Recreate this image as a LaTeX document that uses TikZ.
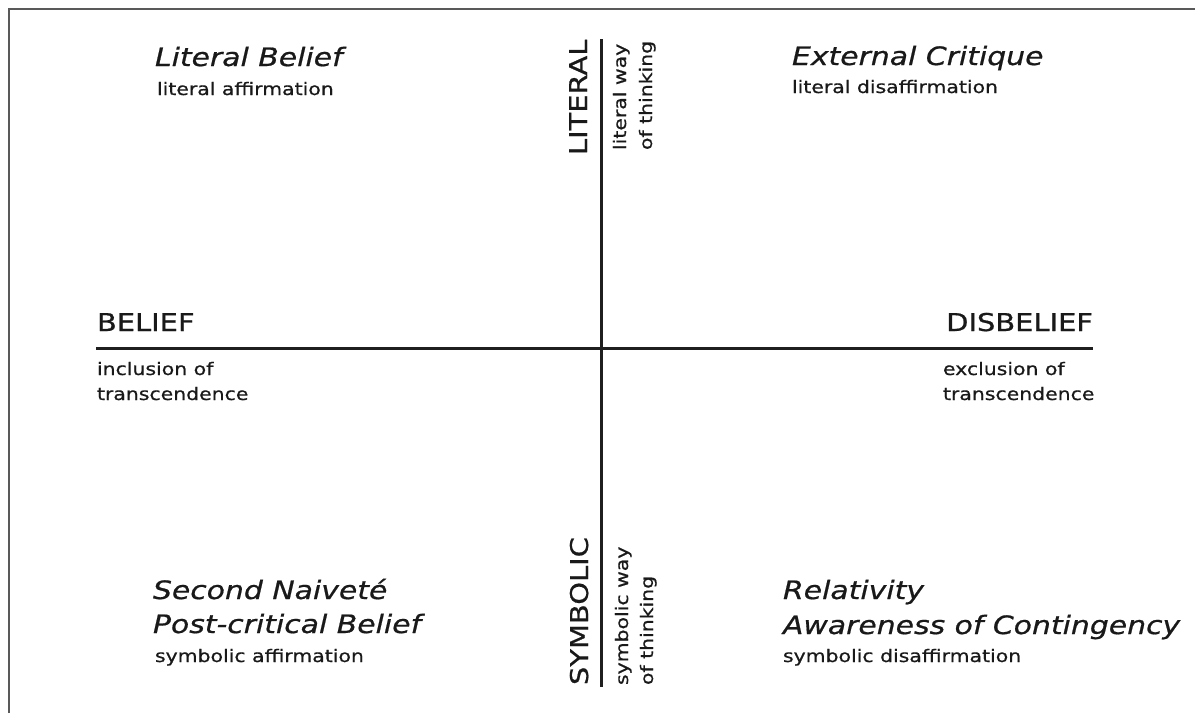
\documentclass[tikz,border=0pt]{standalone}
\usepackage{fontspec}
\setmainfont[FakeStretch=1.18,FakeBold=0.7]{DejaVu Sans}
\begin{document}
\begin{tikzpicture}[x=1pt,y=-1pt,
  every node/.style={inner sep=0pt,outer sep=0pt,text=black!90},
  axislabel/.style={font=\fontsize{24.5}{29}\selectfont},
  small/.style={font=\fontsize{17.3}{25}\selectfont},
  title/.style={font=\fontsize{25.3}{34}\selectfont\itshape},
  axisline/.style={line width=3pt,draw=black!88},
  frameline/.style={line width=2pt,draw=black!65}]
\useasboundingbox (0,0) rectangle (1195,713);
\fill[white] (0,0) rectangle (1195,713);

% outer frame (top and left edges)
\coordinate (fbl) at (9,713);
\coordinate (ftl) at (9,9);
\coordinate (ftr) at (1195,9);
\draw[frameline] (fbl) -- (ftl) -- (ftr);

% axes
\coordinate (hl) at (96,348);
\coordinate (hr) at (1093,348);
\coordinate (vt) at (601.5,39);
\coordinate (vb) at (601.5,687);
\draw[axisline] (hl) -- (hr);
\draw[axisline] (vt) -- (vb);

% horizontal axis labels
\node[axislabel,anchor=base west] (belief) at (97,331) {BELIEF};
\node[small,anchor=base west] (incl1) at (97,375) {inclusion of};
\node[small,anchor=base west] (incl2) at (97,400) {transcendence};
\node[axislabel,anchor=base east] (disbelief) at (1093,331) {DISBELIEF};
\node[small,anchor=base west] (excl1) at (943,375) {exclusion of};
\node[small,anchor=base west] (excl2) at (943,400) {transcendence};

% vertical axis labels
\node[axislabel,rotate=90,anchor=base west] (literal) at (587,155) {LITERAL};
\node[small,rotate=90,anchor=base west] (litway1) at (626,150) {literal way};
\node[small,rotate=90,anchor=base west] (litway2) at (652,150) {of thinking};
\node[axislabel,rotate=90,anchor=base west] (symbolic) at (588,685) {SYMBOLIC};
\node[small,rotate=90,anchor=base west] (symway1) at (628,685) {symbolic way};
\node[small,rotate=90,anchor=base west] (symway2) at (653,685) {of thinking};

% quadrant: literal belief
\node[title,anchor=base west] (lb) at (155,66) {Literal Belief};
\node[small,anchor=base west] (lbs) at (157,95) {literal affirmation};

% quadrant: external critique
\node[title,anchor=base west] (ec) at (792,65) {External Critique};
\node[small,anchor=base west] (ecs) at (792,93) {literal disaffirmation};

% quadrant: post-critical belief
\node[title,anchor=base west] (sn) at (153,599) {Second Naiveté};
\node[title,anchor=base west] (pcb) at (153,633) {Post-critical Belief};
\node[small,anchor=base west] (pcbs) at (155,662) {symbolic affirmation};

% quadrant: relativity
\node[title,anchor=base west] (rel) at (783,599) {Relativity};
\node[title,anchor=base west] (aoc) at (783,634) {Awareness of Contingency};
\node[small,anchor=base west] (aocs) at (783,662) {symbolic disaffirmation};
\end{tikzpicture}
\end{document}
